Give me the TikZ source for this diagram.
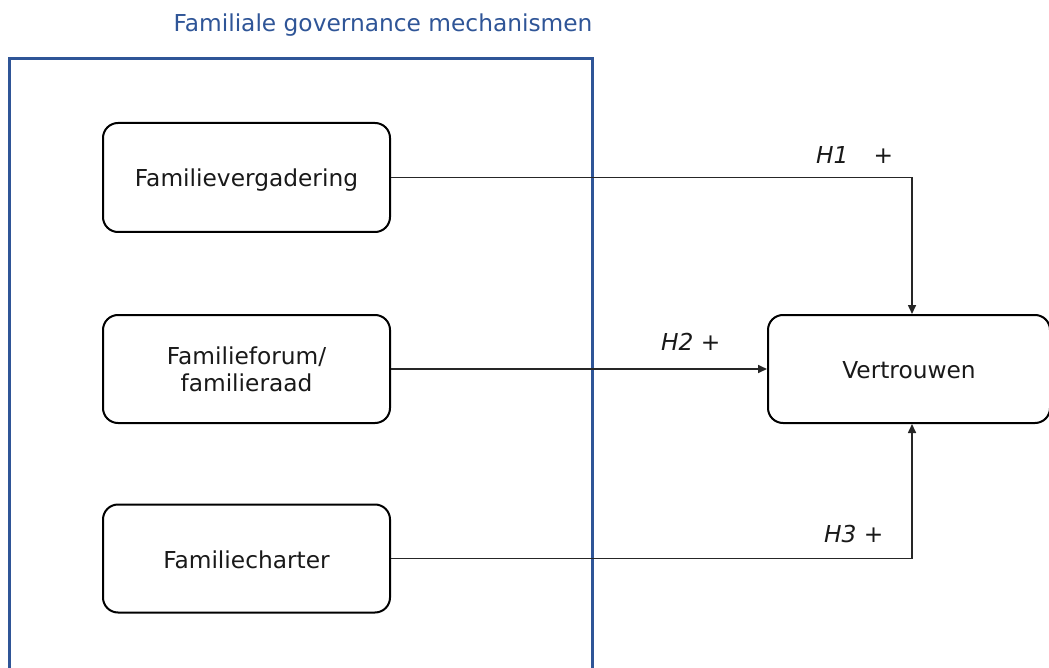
\documentclass[tikz,border=0pt]{standalone}
\usepackage{fontspec}
\setmainfont{DejaVu Sans}
\usetikzlibrary{arrows.meta}
\definecolor{frameblue}{HTML}{2F5597}
\definecolor{linegray}{HTML}{262626}
\begin{document}
\begin{tikzpicture}[x=1pt,y=-1pt,
  every node/.style={font=\fontsize{23.3}{27}\selectfont},
  oneline/.style={text height=24pt,text depth=5pt},
  box/.style={draw=black,line width=2pt,rounded corners=15pt,minimum width=287pt,minimum height=108pt,align=center,inner sep=0pt,text=black!90},
  link/.style={draw=linegray,line width=1.6pt,-{Triangle[length=9pt,width=8pt]}},
  hyp/.style={oneline,font=\fontsize{23.3}{27}\selectfont\itshape,text=black!90,anchor=west,inner sep=0pt}]
\useasboundingbox (0,0) rectangle (1049,668);
\node[oneline,text=frameblue] (title) at (383,22) {Familiale governance mechanismen};
\draw[frameblue,line width=3pt] (9,675) -- (9,59) -- (592,59) -- (592,675);
\node[box,oneline,minimum height=109pt] (b1) at (246.5,177.5) {Familievergadering};
\node[box] (b2) at (246.5,369) {Familieforum/\\familieraad};
\node[box,oneline] (b3) at (246.5,558.5) {Familiecharter};
\node[box,oneline,minimum width=282pt] (vt) at (909,369) {Vertrouwen};
\coordinate (c1) at (912,177.5);
\coordinate (c3) at (912,558.5);
\draw[link] (b1.east) -- (c1) -- (c1 |- vt.north);
\draw[link] (b2.east) -- (vt.west);
\draw[link] (b3.east) -- (c3) -- (c3 |- vt.south);
\node[hyp] (h1) at (816,154) {H1\hspace{25pt}+};
\node[hyp] (h2) at (661,340.5) {H2 +};
\node[hyp] (h3) at (824,532.5) {H3 +};
\end{tikzpicture}
\end{document}
